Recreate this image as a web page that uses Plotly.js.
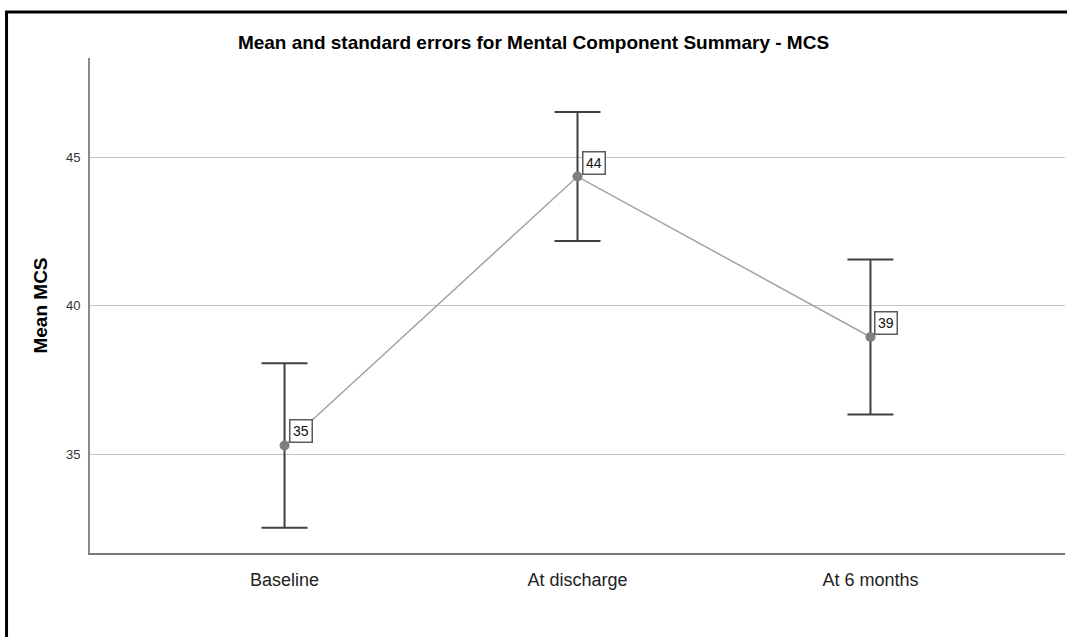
<!DOCTYPE html>
<html>
<head>
<meta charset="utf-8">
<script src="https://cdn.plot.ly/plotly-3.0.1.min.js"></script>
<style>html,body{margin:0;padding:0;background:#fff;}#chart{width:1067px;height:637px;}</style>
</head>
<body>
<div id="chart"></div>
<script>
const categories = ["Baseline", "At discharge", "At 6 months"];
const meanMCS = [35.30, 44.35, 38.95];
const errMCS = [2.77, 2.17, 2.61];
const yTicks = [35, 40, 45];

const FONT = "Liberation Sans, Arial, Helvetica, sans-serif";

const trace = {
  type: "scatter",
  mode: "lines+markers",
  x: categories,
  y: meanMCS,
  line: {color: "#a3a3a3", width: 1.5},
  marker: {color: "#7f7f7f", size: 10},
  error_y: {type: "data", array: errMCS, visible: true, color: "#404040", thickness: 2, width: 23},
  hoverinfo: "skip",
  showlegend: false
};

const annotations = categories.map((c, i) => ({
  x: c, y: meanMCS[i], xref: "x", yref: "y",
  text: String(Math.round(meanMCS[i])),
  showarrow: false, xanchor: "left", yanchor: "bottom",
  xshift: 4, yshift: 2,
  font: {family: FONT, size: 14, color: "#111"},
  bgcolor: "#ffffff", bordercolor: "#5a5a5a", borderwidth: 1.5, borderpad: 2.5
}));

const layout = {
  width: 1067, height: 637,
  margin: {l: 90, r: 2, t: 58, b: 84},
  paper_bgcolor: "#ffffff", plot_bgcolor: "#ffffff",
  font: {family: FONT, color: "#222"},
  title: {
    text: "<b>Mean and standard errors for Mental Component Summary - MCS</b>",
    font: {family: FONT, size: 19, color: "#000"},
    x: 0.5, xanchor: "center", y: 0.934, yanchor: "middle"
  },
  xaxis: {
    type: "category",
    range: [-0.664, 2.664],
    showline: true, linecolor: "#777", linewidth: 2,
    showgrid: false, zeroline: false, ticks: "",
    ticklabelstandoff: 9,
    tickfont: {family: FONT, size: 18, color: "#222"},
    fixedrange: true
  },
  yaxis: {
    range: [31.68, 48.34],
    tickvals: yTicks, ticktext: yTicks.map(String),
    showline: true, linecolor: "#8a8a8a", linewidth: 2,
    showgrid: true, gridcolor: "#c4c4c4", gridwidth: 1,
    zeroline: false, ticks: "",
    ticklabelstandoff: 5,
    tickfont: {family: FONT, size: 13, color: "#333"},
    title: {text: "<b>Mean MCS</b>", font: {family: FONT, size: 19, color: "#000"}, standoff: 13},
    fixedrange: true
  },
  annotations: annotations,
  shapes: [{
    type: "rect", xref: "paper", yref: "paper",
    x0: -0.0856, x1: 1.01, y0: -0.2, y1: 1.0929,
    line: {color: "#000", width: 3}, layer: "above"
  }]
};

Plotly.newPlot("chart", [trace], layout, {displayModeBar: false, staticPlot: true});
</script>
</body>
</html>
